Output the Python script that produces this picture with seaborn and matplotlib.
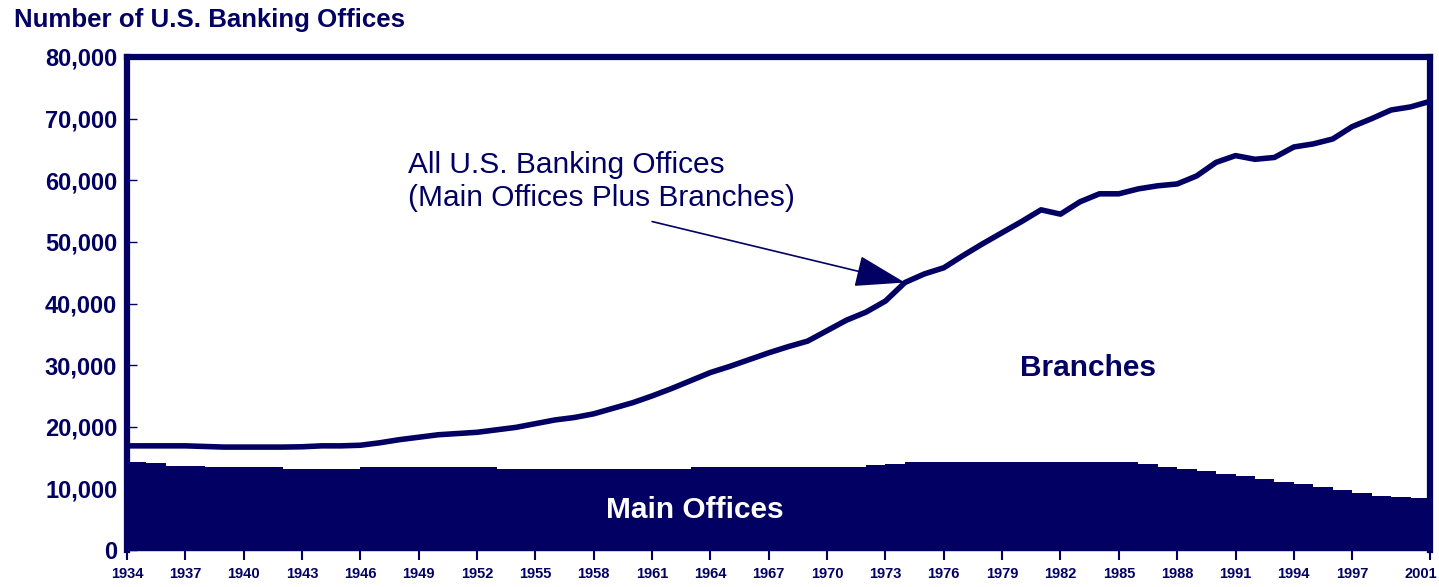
import matplotlib
matplotlib.use("Agg")
import matplotlib.pyplot as plt
from matplotlib import font_manager
from matplotlib.transforms import ScaledTranslation
import seaborn as sns
import pandas as pd

# ---- data ----
years = list(range(1934, 2002))
main_offices = [14200, 14100, 13700, 13700, 13400, 13400, 13400, 13400, 13100, 13100,
                13100, 13100, 13400, 13400, 13400, 13400, 13400, 13400, 13400, 13100,
                13100, 13100, 13100, 13100, 13100, 13100, 13100, 13100, 13100, 13400,
                13400, 13400, 13400, 13400, 13400, 13400, 13400, 13500, 13800, 14000,
                14300, 14300, 14300, 14300, 14300, 14300, 14300, 14300, 14300, 14300,
                14300, 14300, 14000, 13500, 13100, 12800, 12400, 12000, 11600, 11000,
                10700, 10200, 9700, 9200, 8800, 8650, 8500, 8100]
all_offices = [16900, 16900, 16900, 16900, 16800, 16700, 16700, 16700, 16700, 16750,
               16900, 16900, 17000, 17400, 17900, 18300, 18700, 18900, 19100, 19500,
               19900, 20500, 21100, 21500, 22100, 23000, 23900, 25000, 26200, 27500,
               28800, 29800, 30900, 32000, 33000, 33900, 35600, 37300, 38600, 40400,
               43400, 44800, 45800, 47800, 49700, 51500, 53300, 55200, 54500, 56500,
               57800, 57800, 58600, 59100, 59400, 60700, 62900, 64000, 63400, 63700,
               65400, 65900, 66700, 68700, 70000, 71400, 71900, 72800]
x_tick_years = [1934, 1937, 1940, 1943, 1946, 1949, 1952, 1955, 1958, 1961, 1964,
                1967, 1970, 1973, 1976, 1979, 1982, 1985, 1988, 1991, 1994, 1997, 2001]
y_ticks = [0, 10000, 20000, 30000, 40000, 50000, 60000, 70000, 80000]
title = "Number of U.S. Banking Offices"
annot_text = "All U.S. Banking Offices\n(Main Offices Plus Branches)"
arrow_from = (1961.0, 53300)
arrow_to = (1974.0, 43400)

NAVY = "#020062"

sns.set_theme(style="white")
plt.rcParams["font.family"] = ["Liberation Sans", "DejaVu Sans"]

available = {f.name for f in font_manager.fontManager.ttflist}
narrow = "Liberation Sans Narrow" if "Liberation Sans Narrow" in available else "Liberation Sans"

df = pd.DataFrame({"year": years, "main": main_offices, "total": all_offices})

fig = plt.figure(figsize=(14.39, 5.87), dpi=100)
ax = fig.add_axes([127 / 1439, 1 - 550 / 587, (1430 - 127) / 1439, (550 - 57) / 587])

ax.fill_between(df["year"], 0, df["main"], step="post", color=NAVY, lw=0, zorder=2)
sns.lineplot(data=df, x="year", y="total", ax=ax, color=NAVY, lw=4.0, zorder=3)

ax.set_xlim(1934, 2001)
ax.set_ylim(0, 80000)
ax.set_xlabel("")
ax.set_ylabel("")

for side in ["top", "left", "right"]:
    ax.spines[side].set_color(NAVY)
    ax.spines[side].set_linewidth(4.5)
    ax.spines[side].set_zorder(5)
ax.spines["bottom"].set_color(NAVY)
ax.spines["bottom"].set_linewidth(1)

ax.set_xticks(x_tick_years)
ax.set_xticklabels([str(y) for y in x_tick_years], fontfamily=narrow,
                   fontweight="bold", fontsize=10.5, color=NAVY)
ax.set_yticks(y_ticks)
ax.set_yticklabels([f"{v:,}" for v in y_ticks], fontweight="bold", fontsize=17, color=NAVY)
ax.tick_params(axis="x", direction="out", length=7, width=1.5, color=NAVY, pad=5,
               bottom=True)
ax.tick_params(axis="y", direction="in", length=7, width=1, color=NAVY, pad=7, left=True)
ax.grid(False)

last = ax.get_xticklabels()[-1]
last.set_horizontalalignment("right")
last.set_transform(last.get_transform() + ScaledTranslation(7 / 100, 0, fig.dpi_scale_trans))

ax.annotate("", xy=arrow_to, xytext=arrow_from,
            arrowprops=dict(arrowstyle="-|>,head_length=1.6,head_width=0.5",
                            color=NAVY, lw=1.2, mutation_scale=20, shrinkA=0, shrinkB=0),
            zorder=6)
ax.text(0.2157, 0.748, annot_text, transform=ax.transAxes, ha="left", va="center",
        fontsize=21.5, color=NAVY, linespacing=1.22)
ax.text(0.7375, 0.369, "Branches", transform=ax.transAxes, ha="center", va="center",
        fontsize=21.5, fontweight="bold", color=NAVY)
ax.text(0.436, 0.081, "Main Offices", transform=ax.transAxes, ha="center", va="center",
        fontsize=21.5, fontweight="bold", color="white", zorder=7)

fig.text(14 / 1439, 1 - 20 / 587, title, ha="left", va="center", fontsize=18.6,
         fontweight="bold", color=NAVY)

fig.savefig("out.png", dpi=100)
